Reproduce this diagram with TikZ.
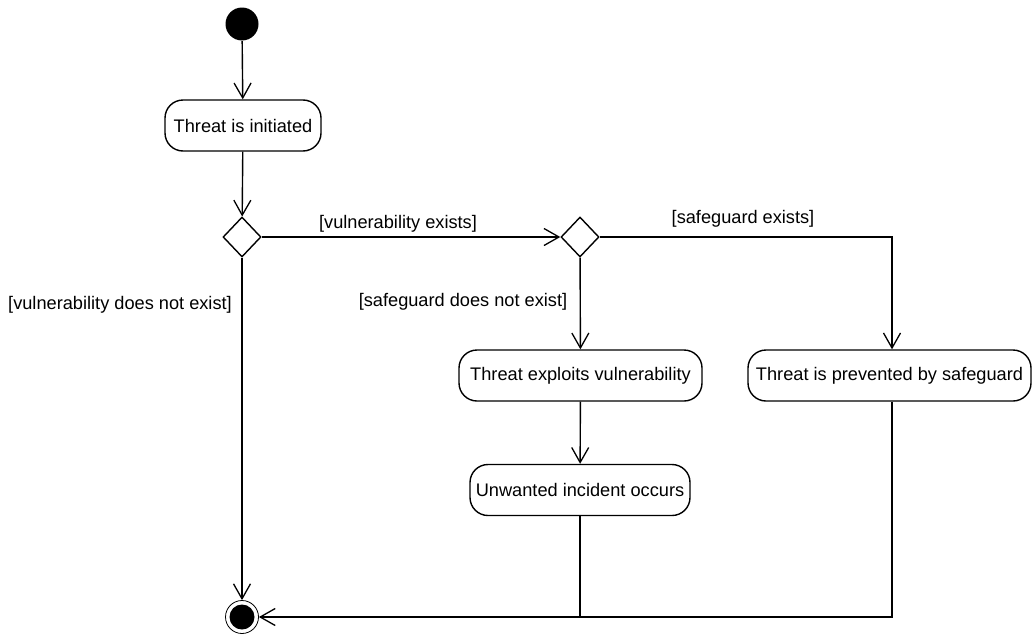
\documentclass[tikz,border=0pt]{standalone}
\usepackage{fontspec}
\setmainfont{Liberation Sans}
\usetikzlibrary{arrows.meta,shapes.geometric}
\begin{document}
\begin{tikzpicture}[x=1pt,y=-1pt,
  font=\fontsize{18.2}{21}\selectfont,
  line width=1.4pt,
  flow/.style={-{Straight Barb[length=15pt,width=17pt,line width=1.3pt]}},
  action/.style={draw,rounded corners=18pt,minimum height=51pt,inner sep=0pt},
  decision/.style={draw,diamond,minimum width=38pt,minimum height=40pt,inner sep=0pt},
  guard/.style={inner sep=0pt}]
\useasboundingbox (0,0) rectangle (1032,637);
% initial and final nodes
\node[circle,fill=black,minimum size=33pt,inner sep=0pt] (start) at (242,24) {};
\node[circle,draw,line width=0.8pt,minimum size=33pt,inner sep=0pt] (final) at (242,617) {};
\fill (final.center) circle (12.5pt);
% actions
\node[action,minimum width=156pt] (init) at (243,125.5) {Threat is initiated};
\node[action,minimum width=243pt] (exploit) at (580.5,375.5) {Threat exploits vulnerability};
\node[action,minimum width=283pt] (prevent) at (889.5,375.5) {Threat is prevented by safeguard};
\node[action,minimum width=220pt] (incident) at (580,490) {Unwanted incident occurs};
% decisions
\node[decision] (d1) at (242,237) {};
\node[decision] (d2) at (580,237) {};
% guards
\node[guard] (gve) at (398,224) {[vulnerability exists]};
\node[guard] (gse) at (743,219) {[safeguard exists]};
\node[guard] (gsn) at (463,302) {[safeguard does not exist]};
\node[guard] (gvn) at (120,305) {[vulnerability does not exist]};
% flows
\draw[flow] (start) -- (init);
\draw[flow] (init) -- (d1);
\draw[flow] (d1.east) -- (d2.west);
\draw[flow] (d2.east) -| (prevent.north -| 892,0);
\draw[flow] (d2) -- (exploit);
\draw[flow] (exploit) -- (incident);
\draw[flow] (d1) -- (final);
\draw[flow] (prevent.south -| 892,0) |- (final.east);
\draw (incident.south) -- (incident.south |- final);
\end{tikzpicture}
\end{document}
